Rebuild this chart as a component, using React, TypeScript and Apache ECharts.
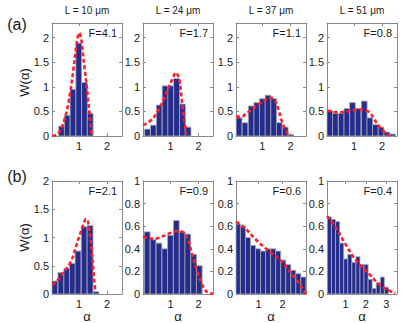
import React, { useEffect, useRef } from 'react';
import * as echarts from 'echarts';

// ---- data ----
const lengthsUm = [10, 24, 37, 51];
const fValues = ['4.1', '1.7', '1.1', '0.8', '2.1', '0.9', '0.6', '0.4'];

const a1Centers = [0.37, 0.575, 0.78, 0.985, 1.19, 1.395];
const a1Heights = [0.2, 0.42, 0.95, 1.89, 1.09, 0.46];
const a1CurveX = [0.04, 0.2, 0.36, 0.5, 0.6, 0.7, 0.8, 0.88, 0.94, 1.0, 1.06, 1.12, 1.2, 1.28, 1.36, 1.42, 1.47];
const a1CurveY = [0.0, 0.03, 0.15, 0.38, 0.62, 0.95, 1.38, 1.75, 1.98, 2.1, 2.02, 1.75, 1.35, 0.95, 0.5, 0.15, 0.0];

const a2Centers = [0.18, 0.39, 0.6, 0.81, 1.01, 1.22, 1.43, 1.63];
const a2Heights = [0.14, 0.22, 0.63, 1.02, 1.02, 1.17, 0.65, 0.18];
const a2CurveX = [0.02, 0.24, 0.42, 0.6, 0.77, 0.95, 1.1, 1.19, 1.31, 1.4, 1.49, 1.57];
const a2CurveY = [0.22, 0.29, 0.39, 0.56, 0.76, 1.0, 1.2, 1.29, 1.17, 0.76, 0.35, 0.03];

const a3Centers = [0.17, 0.38, 0.6, 0.8, 1.0, 1.2, 1.4, 1.6, 1.81, 2.01];
const a3Heights = [0.37, 0.27, 0.61, 0.68, 0.76, 0.83, 0.76, 0.27, 0.18, 0.03];
const a3CurveX = [0.06, 0.25, 0.43, 0.67, 0.9, 1.14, 1.32, 1.45, 1.56, 1.68, 1.8, 1.92, 1.98];
const a3CurveY = [0.4, 0.39, 0.46, 0.56, 0.66, 0.74, 0.78, 0.72, 0.56, 0.32, 0.15, 0.03, 0.0];

const a4Centers = [0.13, 0.33, 0.54, 0.74, 0.94, 1.14, 1.36, 1.56, 1.76, 1.96, 2.17, 2.37];
const a4Heights = [0.52, 0.46, 0.46, 0.56, 0.68, 0.56, 0.71, 0.37, 0.23, 0.18, 0.08, 0.04];
const a4CurveX = [0.04, 0.25, 0.49, 0.73, 0.96, 1.2, 1.38, 1.56, 1.74, 1.92, 2.1, 2.27];
const a4CurveY = [0.52, 0.49, 0.48, 0.5, 0.52, 0.54, 0.52, 0.48, 0.32, 0.18, 0.07, 0.01];

const b1Centers = [0.13, 0.35, 0.56, 0.76, 0.96, 1.18, 1.39, 1.6];
const b1Heights = [0.23, 0.38, 0.45, 0.54, 0.76, 1.19, 1.21, 0.04];
const b1CurveX = [0.04, 0.19, 0.37, 0.55, 0.73, 0.9, 1.08, 1.2, 1.24, 1.32, 1.44, 1.52, 1.58];
const b1CurveY = [0.16, 0.22, 0.34, 0.45, 0.6, 0.86, 1.13, 1.3, 1.33, 1.28, 0.8, 0.34, 0.04];

const b2Centers = [0.17, 0.38, 0.59, 0.8, 1.0, 1.21, 1.42, 1.62, 1.83, 2.03];
const b2Heights = [0.55, 0.48, 0.45, 0.4, 0.52, 0.65, 0.55, 0.53, 0.35, 0.25];
const b2CurveX = [0.02, 0.24, 0.48, 0.71, 0.95, 1.19, 1.43, 1.61, 1.79, 1.96, 2.14, 2.32, 2.52];
const b2CurveY = [0.51, 0.49, 0.49, 0.51, 0.535, 0.556, 0.55, 0.49, 0.34, 0.2, 0.08, 0.015, 0.005];

const b3Centers = [0.14, 0.35, 0.56, 0.77, 0.98, 1.19, 1.4, 1.61, 1.82, 2.03, 2.24, 2.45, 2.66, 2.87];
const b3Heights = [0.62, 0.6, 0.5, 0.43, 0.4, 0.38, 0.4, 0.4, 0.38, 0.3, 0.26, 0.21, 0.18, 0.15];
const b3CurveX = [0.06, 0.45, 0.8, 1.1, 1.5, 2.0, 2.5, 2.8, 2.98];
const b3CurveY = [0.64, 0.58, 0.5, 0.44, 0.37, 0.28, 0.15, 0.06, 0.0];

const b4Centers = [0.21, 0.41, 0.61, 0.81, 1.01, 1.21, 1.41, 1.61, 1.81, 2.01, 2.21, 2.41, 2.61, 2.81, 3.01];
const b4Heights = [0.68, 0.66, 0.64, 0.45, 0.31, 0.35, 0.28, 0.33, 0.26, 0.26, 0.13, 0.05, 0.1, 0.15, 0.06];
const b4CurveX = [0.09, 0.55, 0.97, 1.38, 1.79, 2.2, 2.62, 3.03, 3.45];
const b4CurveY = [0.69, 0.58, 0.45, 0.33, 0.24, 0.17, 0.09, 0.04, 0.006];

const binWidths = [0.205, 0.207, 0.205, 0.204, 0.211, 0.206, 0.21, 0.2];
const xMins = [0.03, 0.02, 0.06, 0.03, 0.03, 0.02, 0.06, 0.09];
const xMaxs = [2.53, 2.52, 2.55, 2.53, 2.53, 2.52, 2.98, 3.53];
const yMaxs = [2.3, 2.3, 2.3, 2.3, 2, 1, 1, 1];
const xTickValues = [[1, 2], [1, 2], [1, 2], [1, 2], [1, 2], [1, 2], [1, 2], [1, 2, 3]];
const yTicksA = [0, 0.5, 1, 1.5, 2];
const yTicksB2 = [0, 0.5, 1, 1.5, 2];
const yTicksB = [0, 0.2, 0.4, 0.6, 0.8, 1];

const panels = [
  { centers: a1Centers, heights: a1Heights, cx: a1CurveX, cy: a1CurveY, yTicks: yTicksA },
  { centers: a2Centers, heights: a2Heights, cx: a2CurveX, cy: a2CurveY, yTicks: yTicksA },
  { centers: a3Centers, heights: a3Heights, cx: a3CurveX, cy: a3CurveY, yTicks: yTicksA },
  { centers: a4Centers, heights: a4Heights, cx: a4CurveX, cy: a4CurveY, yTicks: yTicksA },
  { centers: b1Centers, heights: b1Heights, cx: b1CurveX, cy: b1CurveY, yTicks: yTicksB2 },
  { centers: b2Centers, heights: b2Heights, cx: b2CurveX, cy: b2CurveY, yTicks: yTicksB },
  { centers: b3Centers, heights: b3Heights, cx: b3CurveX, cy: b3CurveY, yTicks: yTicksB },
  { centers: b4Centers, heights: b4Heights, cx: b4CurveX, cy: b4CurveY, yTicks: yTicksB },
];

// ---- layout / style ----
const FONT = '"Liberation Sans", Arial, Helvetica, sans-serif';
const colLefts = [52, 143, 236, 327];
const rowTops = [23, 181];
const PW = 70;
const PH = 113;
const FRAME = '#8a8a8a';
const TEXT = '#1a1a1a';
const BAR_FILL = '#252d8c';
const BAR_EDGE = '#a9a9b3';
const CURVE = '#ff1f2a';

export default function App() {
  const ref = useRef<HTMLDivElement>(null);

  useEffect(() => {
    if (!ref.current) return;
    const chart = echarts.init(ref.current, undefined, { renderer: 'svg' });

    const grids: any[] = [];
    const xAxes: any[] = [];
    const yAxes: any[] = [];
    const series: any[] = [];
    const graphics: any[] = [];

    panels.forEach((p, i) => {
      const row = Math.floor(i / 4);
      const col = i % 4;
      const left = colLefts[col];
      const top = rowTops[row];
      grids.push({ left, top, width: PW, height: PH, containLabel: false, outerBoundsMode: 'none' });

      const lineStyle = { color: FRAME, width: 1 };
      const tickBase = { show: true, inside: true, length: 3, lineStyle };
      xAxes[i] = {
        type: 'value', gridIndex: i, min: xMins[i], max: xMaxs[i], position: 'bottom',
        axisLine: { show: true, onZero: false, lineStyle },
        axisTick: { ...tickBase, customValues: xTickValues[i] },
        axisLabel: { show: true, customValues: xTickValues[i], fontSize: 11, color: TEXT, margin: 4, fontFamily: FONT },
        splitLine: { show: false },
      };
      xAxes[i + 8] = {
        type: 'value', gridIndex: i, min: xMins[i], max: xMaxs[i], position: 'top',
        axisLine: { show: true, onZero: false, lineStyle },
        axisTick: { ...tickBase, customValues: xTickValues[i] },
        axisLabel: { show: false },
        splitLine: { show: false },
      };
      yAxes[i] = {
        type: 'value', gridIndex: i, min: 0, max: yMaxs[i], position: 'left',
        axisLine: { show: true, onZero: false, lineStyle },
        axisTick: { ...tickBase, customValues: p.yTicks },
        axisLabel: { show: true, customValues: p.yTicks, fontSize: 11, color: TEXT, margin: 3, fontFamily: FONT },
        splitLine: { show: false },
      };
      yAxes[i + 8] = {
        type: 'value', gridIndex: i, min: 0, max: yMaxs[i], position: 'right',
        axisLine: { show: true, onZero: false, lineStyle },
        axisTick: { ...tickBase, customValues: p.yTicks },
        axisLabel: { show: false },
        splitLine: { show: false },
      };

      const bw = binWidths[i];
      series.push({
        type: 'custom',
        xAxisIndex: i,
        yAxisIndex: i,
        z: 2,
        data: p.centers.map((c, k) => [c, p.heights[k]]),
        renderItem: (params: any, api: any) => {
          const c = api.value(0);
          const h = api.value(1);
          const pTop = api.coord([c - bw / 2, h]);
          const pBot = api.coord([c + bw / 2, 0]);
          const cs = params.coordSys;
          const x0 = Math.max(pTop[0], cs.x);
          const x1 = Math.min(pBot[0], cs.x + cs.width);
          return {
            type: 'rect',
            shape: { x: x0, y: pTop[1], width: Math.max(0, x1 - x0), height: pBot[1] - pTop[1] },
            style: { fill: BAR_FILL, stroke: BAR_EDGE, lineWidth: 0.8 },
          };
        },
      });
      series.push({
        type: 'line',
        xAxisIndex: i,
        yAxisIndex: i,
        z: 5,
        data: p.cx.map((x, k) => [x, p.cy[k]]),
        symbol: 'none',
        showSymbol: false,
        smooth: 0.35,
        lineStyle: { color: CURVE, width: 2.6, type: [4, 2.5] },
      });

      graphics.push({
        type: 'text',
        x: left + PW - 5,
        y: top + 10,
        style: { text: 'F=' + fValues[i], fontSize: 11, fontFamily: FONT, fill: TEXT, align: 'right', verticalAlign: 'middle' },
        z: 10,
      });
    });

    lengthsUm.forEach((L, col) => {
      graphics.push({
        type: 'text',
        x: colLefts[col] + PW / 2,
        y: 10,
        style: { text: 'L = ' + L + ' \u03bcm', fontSize: 10, fontFamily: FONT, fill: TEXT, align: 'center', verticalAlign: 'middle' },
      });
      graphics.push({
        type: 'text',
        x: colLefts[col] + PW / 2,
        y: 316,
        style: { text: '\u03b1', fontSize: 13, fontFamily: FONT, fill: TEXT, align: 'center', verticalAlign: 'middle' },
      });
    });

    ['(a)', '(b)'].forEach((t, row) => {
      graphics.push({
        type: 'text',
        x: 17,
        y: row === 0 ? 24 : 176,
        style: { text: t, fontSize: 16, fontFamily: FONT, fill: TEXT, align: 'center', verticalAlign: 'middle' },
      });
      graphics.push({
        type: 'text',
        x: 24,
        y: rowTops[row] + PH / 2 + (row === 0 ? 3 : 0),
        rotation: Math.PI / 2,
        style: { text: 'W(\u03b1)', fontSize: 13, fontFamily: FONT, fill: TEXT, align: 'center', verticalAlign: 'middle' },
      });
    });

    chart.setOption({
      animation: false,
      backgroundColor: '#ffffff',
      textStyle: { fontFamily: FONT },
      grid: grids,
      xAxis: xAxes,
      yAxis: yAxes,
      series,
      graphic: graphics,
    });

    return () => chart.dispose();
  }, []);

  return (
    <div
      ref={ref}
      style={{ position: 'fixed', left: 0, top: 0, width: 407, height: 323, background: '#fff' }}
    />
  );
}
